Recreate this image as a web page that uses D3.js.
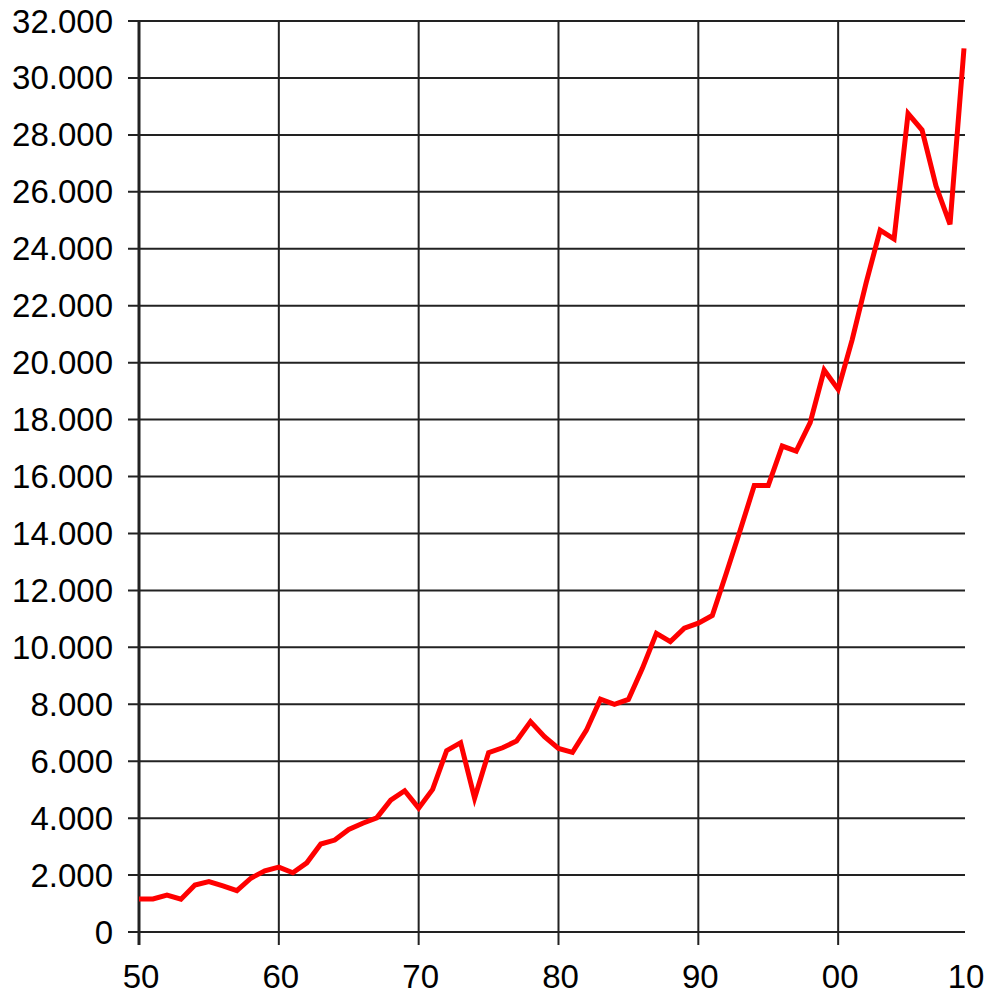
<!DOCTYPE html>
<html>
<head>
<meta charset="utf-8">
<script src="https://cdn.jsdelivr.net/npm/d3@7/dist/d3.min.js"></script>
<style>
  body { margin: 0; background: #fff; }
  svg { display: block; font-family: "Liberation Sans", Arial, sans-serif; }
</style>
</head>
<body>
<div id="chart"></div>
<script>
// yearly values 1950-2009
var years = d3.range(1950, 2010);
var values = [
  1160, 1160, 1300, 1150, 1650, 1770, 1620, 1450, 1890, 2150,
  2280, 2080, 2430, 3090, 3230, 3600, 3820, 4010, 4630, 4960,
  4350, 5010, 6370, 6650, 4700, 6300, 6470, 6710, 7390, 6860,
  6450, 6310, 7090, 8180, 8000, 8170, 9260, 10490, 10200, 10670,
  10850, 11120, 12600, 14120, 15680, 15680, 17070, 16890, 17890, 19740,
  19060, 20800, 22800, 24650, 24340, 28750, 28170, 26200, 24860, 31040
];
var yTicks = d3.range(0, 32001, 2000);
var xGridYears = [1950, 1960, 1970, 1980, 1990, 2000];
var xLabelYears = [1950, 1960, 1970, 1980, 1990, 2000, 2009];
var xLabels = ["50", "60", "70", "80", "90", "00", "10"];

function drawChart() {
    var width = 987, height = 995;
    var plotLeft = 139, plotRight = 964, plotTop = 21, plotBottom = 932;

    var svg = d3.select("#chart").append("svg")
        .attr("width", width)
        .attr("height", height);

    var x = d3.scaleLinear().domain([1950, 2009]).range([plotLeft, plotRight]);
    var y = d3.scaleLinear().domain([0, 32000]).range([plotBottom, plotTop]);

    var fmt = function(d) { return d3.format(",")(d).replace(/,/g, "."); };

    // horizontal grid + y ticks
    svg.append("g").selectAll("line")
        .data(yTicks)
        .enter().append("line")
        .attr("x1", plotLeft - 11)
        .attr("x2", plotRight + 1)
        .attr("y1", function(d) { return y(d); })
        .attr("y2", function(d) { return y(d); })
        .attr("stroke", "#222")
        .attr("stroke-width", 2);

    // vertical grid + x ticks
    svg.append("g").selectAll("line")
        .data(xGridYears)
        .enter().append("line")
        .attr("x1", function(d) { return x(d); })
        .attr("x2", function(d) { return x(d); })
        .attr("y1", plotTop)
        .attr("y2", plotBottom + 13)
        .attr("stroke", "#222")
        .attr("stroke-width", function(d) { return d == 1950 ? 3 : 2; });

    // y labels
    svg.append("g").selectAll("text")
        .data(yTicks)
        .enter().append("text")
        .attr("x", 113)
        .attr("y", function(d) { return y(d); })
        .attr("dy", "0.35em")
        .attr("text-anchor", "end")
        .attr("font-size", 33)
        .attr("fill", "#000")
        .text(fmt);

    // x labels
    svg.append("g").selectAll("text")
        .data(xLabelYears)
        .enter().append("text")
        .attr("x", function(d) { return x(d) + 2; })
        .attr("y", 988)
        .attr("text-anchor", "middle")
        .attr("font-size", 33)
        .attr("fill", "#000")
        .text(function(d, i) { return xLabels[i]; });

    var line = d3.line()
        .x(function(d, i) { return x(years[i]); })
        .y(function(d) { return y(d); });

    svg.append("path")
        .datum(values)
        .attr("d", line)
        .attr("fill", "none")
        .attr("stroke", "#ff0000")
        .attr("stroke-width", 5)
        .attr("stroke-linejoin", "miter");
}

drawChart();
</script>
</body>
</html>
